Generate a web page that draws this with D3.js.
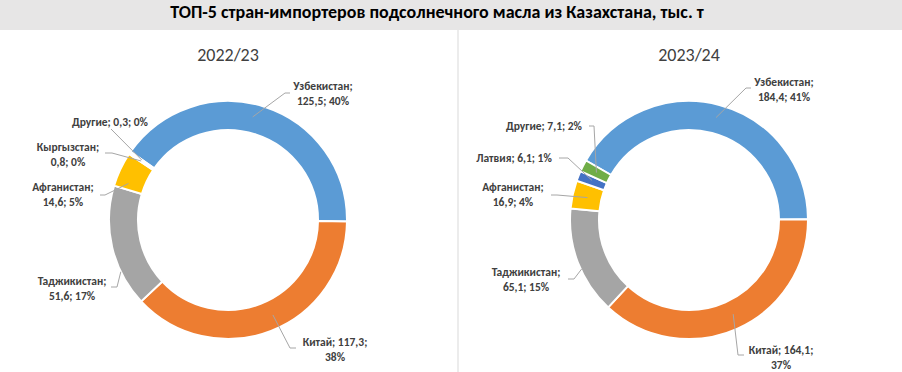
<!DOCTYPE html>
<html>
<head>
<meta charset="utf-8">
<script src="https://cdn.jsdelivr.net/npm/d3@7"></script>
<style>
  body { margin: 0; background: #fff; }
  svg { display: block; }
</style>
</head>
<body>
<svg id="canvas" width="902" height="372"></svg>
<script>
// данные
let title = "ТОП-5 стран-импортеров подсолнечного масла из Казахстана, тыс. т"
let years = ["2022/23", "2023/24"]

let countries1 = ["Узбекистан", "Китай", "Таджикистан", "Афганистан", "Кыргызстан", "Другие"]
let values1 = [125.5, 117.3, 51.6, 14.6, 0.8, 0.3]
let shares1 = [40, 38, 17, 5, 0, 0]

let countries2 = ["Узбекистан", "Китай", "Таджикистан", "Афганистан", "Латвия", "Другие"]
let values2 = [184.4, 164.1, 65.1, 16.9, 6.1, 7.1]
let shares2 = [41, 37, 15, 4, 1, 2]

let colors = ["#5B9BD5", "#ED7D31", "#A5A5A5", "#FFC000", "#4472C4", "#70AD47"]

// раскладка подписей: split - где перенос строки, f/r - откуда идет линия, e/h - излом и конец линии
let layout1 = [
    {split: "name", tx: 95, ty: -130, f: 0.47, r: 106, e: [57, -127], h: [62, -127]},
    {split: "pct", tx: 107, ty: 126, f: 0.47, r: 105, e: [62, 128], h: [68, 128]},
    {split: "name", tx: -156, ty: 65, f: 0.29, r: 119, e: [-111, 67], h: [-117, 67]},
    {split: "name", tx: -165, ty: -29, f: 0.2, r: 106, e: [-123, -25], h: [-128, -25]},
    {split: "name", tx: -160, ty: -69, f: 0.5, r: 105, e: [-116, -67], h: [-123, -67]},
    {split: "none", tx: -118, ty: -94, f: 0.5, r: 105, e: [-117, -91], h: [-117, -91]}
]
let layout2 = [
    {split: "name", tx: 95, ty: -134, f: 0.5, r: 106, e: [57, -132], h: [62, -132]},
    {split: "pct", tx: 92, ty: 134, f: 0.49, r: 104, e: [49, 135], h: [55, 135]},
    {split: "name", tx: -163, ty: 56, f: 0.43, r: 118, e: [-115, 59], h: [-121, 59]},
    {split: "name", tx: -176, ty: -29, f: 0.5, r: 104, e: [-132, -25], h: [-138, -25]},
    {split: "none", tx: -175, ty: -58, f: 0.6, r: 105, e: [-121, -62], h: [-130, -62]},
    {split: "none", tx: -145, ty: -90, f: 0.5, r: 104, e: [-95, -94], h: [-100, -94]}
]

let charts = [
    {year: years[0], names: countries1, values: values1, shares: shares1, layout: layout1, cx: 228, start: 305},
    {year: years[1], names: countries2, values: values2, shares: shares2, layout: layout2, cx: 689, start: 300}
]

let canvas = d3.select("#canvas")
let font = "Calibri, Carlito, 'Liberation Sans Narrow', 'Liberation Sans', Arial, sans-serif"

canvas.append("rect")
    .attr("x", 0).attr("y", 0)
    .attr("width", 902).attr("height", 30)
    .attr("fill", "#E7E6E6")

canvas.append("text")
    .attr("x", 437).attr("y", 18)
    .attr("text-anchor", "middle")
    .attr("font-family", font)
    .attr("font-weight", "bold")
    .attr("font-size", 18)
    .attr("fill", "#000")
    .text(title)

canvas.append("line")
    .attr("x1", 458).attr("x2", 458)
    .attr("y1", 30).attr("y2", 372)
    .attr("stroke", "#D9D9D9")

let fmt = v => String(v).replace(".", ",")

let draw = (c) => {
    let cy = 220
    let g = canvas.append("g").attr("transform", "translate(" + c.cx + "," + cy + ")")

    g.append("text")
        .attr("x", 0).attr("y", -159)
        .attr("text-anchor", "middle")
        .attr("font-family", font)
        .attr("font-size", 18)
        .attr("fill", "#404040")
        .text(c.year)

    let start = c.start * Math.PI / 180
    let pie = d3.pie().sort(null).value(d => d)
        .startAngle(start).endAngle(start + 2 * Math.PI)
    let arcs = pie(c.values)

    let arc = d3.arc().innerRadius(90).outerRadius(119)

    g.selectAll("path.slice")
        .data(arcs)
        .enter()
        .append("path")
        .attr("class", "slice")
        .attr("d", arc)
        .attr("fill", (d, i) => colors[i])
        .attr("stroke", "#fff")
        .attr("stroke-width", 2)

    arcs.forEach((d, i) => {
        let L = c.layout[i]
        let a = d.startAngle + L.f * (d.endAngle - d.startAngle)
        let p0 = [L.r * Math.sin(a), -L.r * Math.cos(a)]
        g.append("path")
            .attr("d", d3.line()([p0, L.e, L.h]))
            .attr("fill", "none")
            .attr("stroke", "#A6A6A6")
            .attr("stroke-width", 1)

        let name = c.names[i]
        let val = fmt(c.values[i])
        let pct = c.shares[i] + "%"
        let lines
        if (L.split === "name") {
            lines = [name + ";", val + "; " + pct]
        } else if (L.split === "pct") {
            lines = [name + "; " + val + ";", pct]
        } else {
            lines = [name + "; " + val + "; " + pct]
        }
        let t = g.append("text")
            .attr("text-anchor", "middle")
            .attr("font-family", font)
            .attr("font-weight", "bold")
            .attr("font-size", 11.5)
            .attr("fill", "#404040")
        lines.forEach((s, k) => {
            t.append("tspan")
                .attr("x", L.tx)
                .attr("y", L.ty + k * 15)
                .text(s)
        })
    })
}

charts.forEach(draw)
</script>
</body>
</html>
